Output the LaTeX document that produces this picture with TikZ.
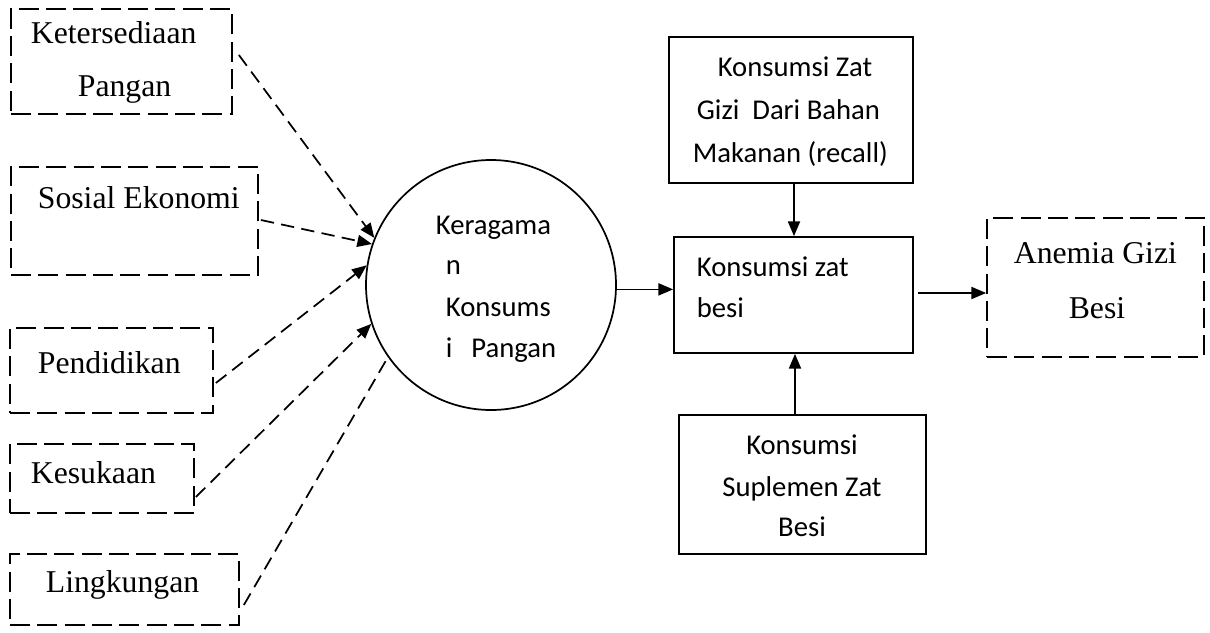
\documentclass[tikz,border=0pt]{standalone}
\usepackage{fontspec}
\setmainfont{Liberation Serif}
\newfontfamily\carl{Carlito}
\usetikzlibrary{arrows.meta}
\begin{document}
\begin{tikzpicture}[x=0.75pt,y=-0.75pt,
  line width=1.3pt,
  dbox/.style={draw, dash pattern=on 15pt off 5.5pt, inner sep=0pt},
  sbox/.style={draw, inner sep=0pt},
  circ/.style={draw, circle, inner sep=0pt, minimum size=250*0.75pt},
  serif/.style={font=\fontsize{23.8}{28}\selectfont, inner sep=0pt},
  sans/.style={font=\carl\fontsize{21.5}{26}\selectfont, inner sep=0pt},
  darr/.style={dash pattern=on 10pt off 5.5pt, -{Triangle[length=11pt,width=9pt]}},
  dline/.style={dash pattern=on 10pt off 5.5pt},
  sarr/.style={-{Triangle[length=11pt,width=9pt]}}]
\useasboundingbox (0,0) rectangle (1210,632);
% left dashed boxes
\node[dbox, minimum width=221*0.75pt, minimum height=105*0.75pt] (b1) at (121.5,61.5) {};
\node[dbox, minimum width=247*0.75pt, minimum height=108*0.75pt] (b2) at (134.5,221) {};
\node[dbox, minimum width=203*0.75pt, minimum height=85*0.75pt] (b3) at (111.5,370.5) {};
\node[dbox, minimum width=184*0.75pt, minimum height=69*0.75pt] (b4) at (102,478.5) {};
\node[dbox, minimum width=229*0.75pt, minimum height=71*0.75pt] (b5) at (124.5,589.5) {};
% left texts
\node[serif, anchor=base west] (t1a) at (30,43) {Ketersediaan};
\node[serif, anchor=base west] (t1b) at (77,96) {Pangan};
\node[serif, anchor=base west] (t2) at (37,208) {Sosial Ekonomi};
\node[serif, anchor=base west] (t3) at (37,373) {Pendidikan};
\node[serif, anchor=base west] (t4) at (30,483) {Kesukaan};
\node[serif, anchor=base west] (t5) at (45,592) {Lingkungan};
% circle
\node[circ] (c) at (491,285) {};
\node[sans, anchor=base west] (c1) at (435,234) {Keragama};
\node[sans, anchor=base west] (c2) at (445,274) {n};
\node[sans, anchor=base west] (c3) at (445,316) {Konsums};
\node[sans, anchor=base west] (c4) at (445,357) {i\hspace{19\dimexpr0.75pt\relax}Pangan};
% right boxes
\node[sbox, minimum width=244*0.75pt, minimum height=146*0.75pt] (top) at (791,110) {};
\node[sbox, minimum width=239*0.75pt, minimum height=116*0.75pt] (mid) at (793.5,295) {};
\node[sbox, minimum width=247*0.75pt, minimum height=139*0.75pt] (bot) at (802.5,484.5) {};
\node[dbox, minimum width=217*0.75pt, minimum height=139*0.75pt] (an) at (1095.5,287.5) {};
% right texts
\node[sans, anchor=base] (r1) at (795,76) {Konsumsi Zat};
\node[sans, anchor=base west] (r2) at (696,119) {Gizi\ \ Dari Bahan};
\node[sans, anchor=base west] (r3) at (692,162) {Makanan (recall)};
\node[sans, anchor=base west] (m1) at (696,276) {Konsumsi zat};
\node[sans, anchor=base west] (m2) at (696,317) {besi};
\node[sans, anchor=base] (s1) at (802,454) {Konsumsi};
\node[sans, anchor=base] (s2) at (802,496) {Suplemen Zat};
\node[sans, anchor=base] (s3) at (802,536) {Besi};
\node[serif, anchor=base west] (a1) at (1013,263) {Anemia Gizi};
\node[serif, anchor=base] (a2) at (1097,318) {Besi};
% dashed connectors
\draw[darr] ([shift={(6,-6.5)}]b1.east) -- (c.158);
\draw[darr] ([shift={(2,-1)}]b2.east) -- (c.161);
\draw[darr] ([shift={(2,12.5)}]b3.east) -- (c.171);
\draw[darr] ([shift={(1,18.5)}]b4.east) -- (c.198);
\draw[dline] ([shift={(4,15.5)}]b5.east) -- (c.215);
% solid connectors
\coordinate (p0) at (c.-2);
\draw[sarr] (p0) -- (p0 -| mid.west);
\coordinate (p1) at ([shift={(3,0)}]top.south);
\draw[sarr] (p1) -- (p1 |- mid.north);
\coordinate (p2) at ([shift={(-7.5,0)}]bot.north);
\draw[sarr] (p2) -- (p2 |- mid.south);
\coordinate (p3) at ([shift={(4,-2)}]mid.east);
\draw[sarr] (p3) -- (p3 -| an.west);
\end{tikzpicture}
\end{document}
